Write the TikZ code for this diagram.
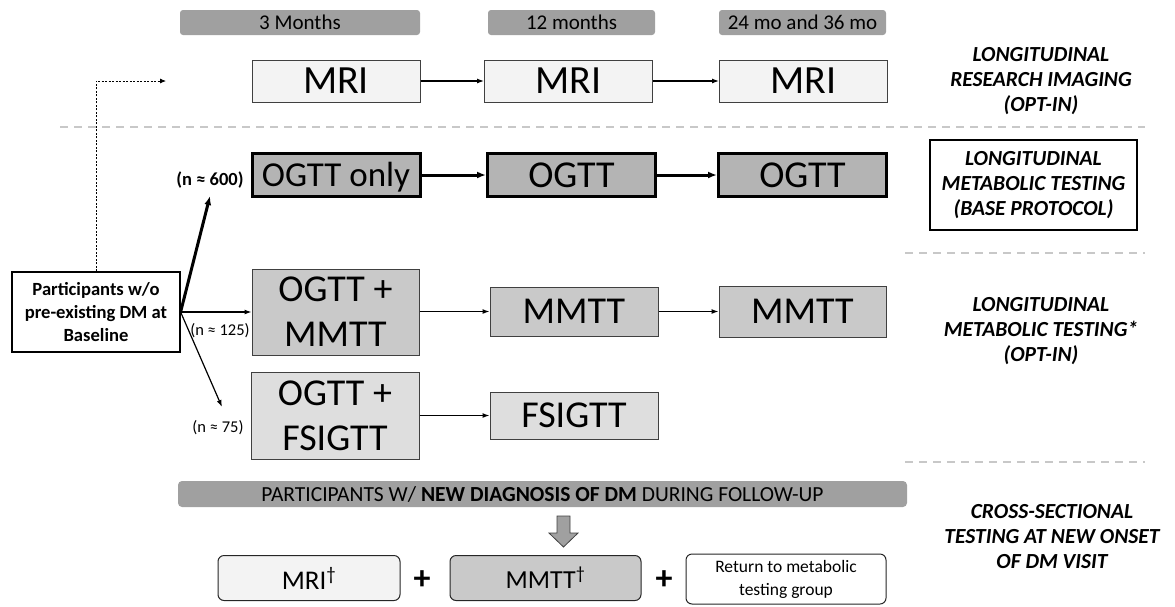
\documentclass[tikz,border=0pt]{standalone}
\usepackage{fontspec}
\setmainfont{Carlito}
\usetikzlibrary{arrows.meta}
\definecolor{hdrgray}{HTML}{A0A0A0}
\definecolor{mrifill}{HTML}{F3F3F3}
\definecolor{ogttfill}{HTML}{B4B4B4}
\definecolor{mmttfill}{HTML}{C9C9C9}
\definecolor{fsfill}{HTML}{DEDEDE}
\definecolor{sepgray}{HTML}{C8C8C8}
\definecolor{edgegray}{HTML}{404040}
\tikzset{
  bigtxt/.style={font=\fontsize{38}{45}\selectfont},
  hdr/.style={fill=hdrgray, rounded corners=3pt, minimum height=25pt, inner sep=0pt, font=\fontsize{21}{23}\selectfont},
  thinbox/.style={draw=edgegray, line width=1pt, inner sep=0pt, align=center, bigtxt},
  mribox/.style={thinbox, fill=mrifill, minimum width=168pt, minimum height=42pt, font=\fontsize{40}{45}\selectfont},
  ogttbox/.style={draw=black, line width=3pt, fill=ogttfill, inner sep=0pt, bigtxt, minimum width=168pt, minimum height=43pt},
  sidelabel/.style={align=center, font=\fontsize{21.5}{25}\selectfont\bfseries\itshape},
  nlabel/.style={font=\fontsize{16.5}{18}\selectfont, inner sep=0pt},
  conn/.style={-{Latex[length=7pt,width=5pt]}, line width=1.2pt},
  thickconn/.style={-{Latex[length=9pt,width=7pt]}, line width=3pt},
  sep/.style={draw=sepgray, line width=1.6pt, dash pattern=on 8pt off 6pt},
  roundbox/.style={draw=black!85, line width=1pt, rounded corners=6pt, inner sep=0pt, align=center}
}
\begin{document}
\begin{tikzpicture}[x=1pt,y=-1pt]
\useasboundingbox (0,0) rectangle (1175,606);

% headers
\node[hdr, minimum width=240pt] (h1) at (300,22.5) {3 Months};
\node[hdr, minimum width=167pt] (h2) at (571.5,22.5) {12 months};
\node[hdr, minimum width=167pt] (h3) at (802.5,22.5) {24 mo and 36 mo};

% MRI row
\node[mribox] (mri1) at (336,81) {MRI};
\node[mribox] (mri2) at (568.5,81) {MRI};
\node[mribox] (mri3) at (803.5,81) {MRI};
\draw[conn] (mri1) -- (mri2);
\draw[conn] (mri2) -- (mri3);

% separators
\draw[sep] (60,127) -- (1145,127);
\draw[sep] (905,253) -- (1145,253);
\draw[sep] (905,462) -- (1145,462);

% OGTT row
\node[ogttbox, font=\fontsize{35}{42}\selectfont, text height=28pt, text depth=5.5pt] (og1) at (336,175) {OGTT only};
\node[ogttbox] (og2) at (571.5,175) {OGTT};
\node[ogttbox] (og3) at (802.5,175) {OGTT};
\draw[thickconn] (og1) -- (og2);
\draw[thickconn] (og2) -- (og3);

% participants
\node[draw=black, line width=1.2pt, minimum width=168pt, minimum height=80pt, inner sep=0pt, align=center,
      font=\fontsize{18.6}{23}\selectfont\bfseries] (part) at (96,312)
      {Participants w/o\\pre-existing DM at\\Baseline};

% dotted arrow to MRI row
\coordinate (dtip) at (166,81);
\draw[line width=0.8pt, dash pattern=on 2pt off 1.5pt, -{Latex[length=6pt,width=5pt]}]
   (part.north -| 96,0) |- (dtip);

% MMTT row
\node[thinbox, fill=mmttfill, minimum width=167pt, minimum height=86pt,
      font=\fontsize{38}{45}\selectfont] (om) at (335.5,312) {OGTT +\\MMTT};
\node[thinbox, fill=mmttfill, minimum width=168pt, minimum height=49pt] (mm2) at (574,311.5) {MMTT};
\node[thinbox, fill=mmttfill, minimum width=167pt, minimum height=51pt] (mm3) at (802.5,311.5) {MMTT};

% FSIGTT row
\node[thinbox, fill=fsfill, minimum width=168pt, minimum height=87pt,
      font=\fontsize{38}{45}\selectfont] (of) at (335,415.5) {OGTT +\\FSIGTT};
\node[thinbox, fill=fsfill, minimum width=168pt, minimum height=47pt] (fs2) at (574,415.5) {FSIGTT};

% branch arrows
\coordinate (t600) at (210,196);
\coordinate (t75) at (222,407);
\draw[thickconn] (part.east) -- (t600);
\draw[conn] (part.east) -- (om.west |- part.east);
\draw[conn] (part.east) -- (t75);
\draw[conn] (om.east |- mm2.west) -- (mm2.west);
\draw[conn] (mm2) -- (mm3);
\draw[conn] (of.east |- fs2.west) -- (fs2.west);

% n labels
\node[nlabel, font=\fontsize{18.5}{20}\selectfont\bfseries] (n600) at (210,180) {(n ≈ 600)};
\node[nlabel] (n125) at (220,331) {(n ≈ 125)};
\node[nlabel] (n75) at (218,428) {(n ≈ 75)};

% side labels
\node[sidelabel] (l1) at (1041,81) {LONGITUDINAL\\RESEARCH IMAGING\\(OPT-IN)};
\node[sidelabel, draw=black, line width=2.8pt, minimum width=207pt, minimum height=90pt, inner sep=0pt] (l2) at (1033.5,185)
   {LONGITUDINAL\\METABOLIC TESTING\\(BASE PROTOCOL)};
\node[sidelabel] (l3) at (1041,331) {LONGITUDINAL\\METABOLIC TESTING*\\(OPT-IN)};
\node[sidelabel] (l4) at (1052,537) {CROSS-SECTIONAL\\TESTING AT NEW ONSET\\OF DM VISIT};

% bottom
\node[fill=hdrgray, rounded corners=4pt, minimum width=729pt, minimum height=26pt, inner sep=0pt,
      font=\fontsize{21.5}{23}\selectfont] (bar) at (542.5,494)
      {PARTICIPANTS W/ \textbf{NEW DIAGNOSIS OF DM} DURING FOLLOW-UP};
\draw[fill=hdrgray, draw=edgegray, line width=0.8pt]
  (557,516) -- (570,516) -- (570,533) -- (578,533) -- (563.5,547) -- (549,533) -- (557,533) -- cycle;
\node[roundbox, fill=mrifill, minimum width=182pt, minimum height=45pt, font=\fontsize{27}{30}\selectfont] (bmri) at (309,578) {MRI\textsuperscript{†}};
\node[roundbox, fill=mmttfill, minimum width=191pt, minimum height=45pt, font=\fontsize{26}{30}\selectfont] (bmm) at (545.5,578) {MMTT\textsuperscript{†}};
\node[roundbox, fill=white, minimum width=200pt, minimum height=50pt, font=\fontsize{17.5}{23}\selectfont] (bret) at (786,579) {Return to metabolic\\testing group};
\node[font=\fontsize{34}{34}\selectfont\bfseries, inner sep=0pt] (p1) at (422,580) {+};
\node[font=\fontsize{34}{34}\selectfont\bfseries, inner sep=0pt] (p2) at (664,580) {+};
\end{tikzpicture}
\end{document}
